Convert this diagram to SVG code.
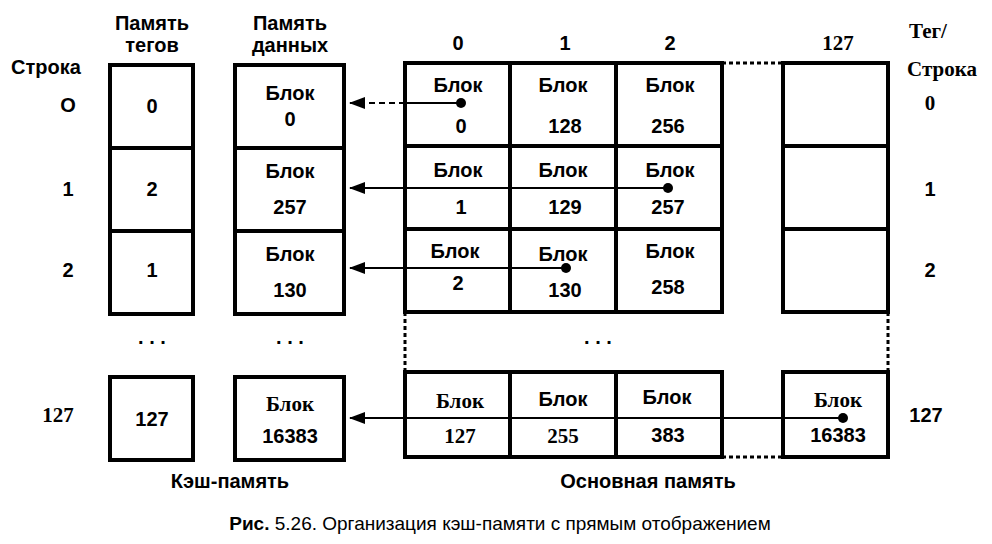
<svg xmlns="http://www.w3.org/2000/svg" width="992" height="544" viewBox="0 0 992 544">
<style>
.b{fill:#fff;stroke:#000;stroke-width:4}
.t{font-family:"Liberation Sans",Arial,sans-serif;font-weight:bold;font-size:20px;text-anchor:middle;fill:#000}
.s{font-family:"Liberation Serif","Times New Roman",serif;font-weight:bold;font-size:21px;text-anchor:middle;fill:#000}
.d{fill:none;stroke:#000;stroke-width:3;stroke-dasharray:4 3}
.c{stroke:#000;stroke-width:2;fill:none}
</style>
<defs><marker id="a" markerWidth="16" markerHeight="12" refX="15" refY="6" orient="auto" markerUnits="userSpaceOnUse"><path d="M0,0 L16,6 L0,12 Z"/></marker></defs>
<rect width="992" height="544" fill="#fff"/>
<g id="headers">
<text class="t" x="152" y="30">Память</text><text class="t" x="152" y="52">тегов</text>
<text class="t" x="290" y="30">Память</text><text class="t" x="290" y="52">данных</text>
<text class="t" x="46" y="74">Строка</text>
<text class="t" x="458" y="50">0</text><text class="t" x="565" y="50">1</text><text class="t" x="670" y="50">2</text>
<text class="s" x="838" y="50" font-size="17">127</text>
<text class="s" x="928" y="38" font-size="22">Тег/</text><text class="s" x="942" y="76">Строка</text>
</g>
<g id="rowlabels">
<text class="t" x="68" y="112">O</text><text class="t" x="68" y="196">1</text><text class="t" x="68" y="277">2</text><text class="s" x="58" y="422">127</text>
<text class="s" x="930" y="110">0</text><text class="t" x="930" y="196">1</text><text class="t" x="930" y="277">2</text><text class="t" x="926" y="422">127</text>
</g>
<g id="tags">
<rect class="b" x="110" y="65" width="83" height="83"/><rect class="b" x="110" y="148" width="83" height="83"/><rect class="b" x="110" y="231" width="83" height="83"/><rect class="b" x="110" y="377" width="83" height="83"/>
<text class="t" x="152" y="113">0</text><text class="t" x="152" y="196">2</text><text class="t" x="152" y="277">1</text><text class="t" x="152" y="344">. . .</text><text class="t" x="152" y="426">127</text>
</g>
<g id="data">
<rect class="b" x="235" y="65" width="109" height="83"/><rect class="b" x="235" y="148" width="109" height="83"/><rect class="b" x="235" y="231" width="109" height="83"/><rect class="b" x="235" y="377" width="109" height="83"/>
<text class="t" x="290" y="100">Блок</text><text class="t" x="290" y="126">0</text>
<text class="t" x="290" y="178">Блок</text><text class="t" x="290" y="214">257</text>
<text class="t" x="290" y="261">Блок</text><text class="t" x="290" y="297">130</text>
<text class="t" x="290" y="344">. . .</text>
<text class="s" x="290" y="411">Блок</text><text class="t" x="290" y="443">16383</text>
</g>
<g id="main">
<rect class="b" x="405" y="63" width="105" height="83"/><rect class="b" x="510" y="63" width="106" height="83"/><rect class="b" x="616" y="63" width="106" height="83"/>
<rect class="b" x="405" y="146" width="105" height="83"/><rect class="b" x="510" y="146" width="106" height="83"/><rect class="b" x="616" y="146" width="106" height="83"/>
<rect class="b" x="405" y="229" width="105" height="83"/><rect class="b" x="510" y="229" width="106" height="83"/><rect class="b" x="616" y="229" width="106" height="83"/>
<rect class="b" x="405" y="372" width="105" height="85"/><rect class="b" x="510" y="372" width="106" height="85"/><rect class="b" x="616" y="372" width="106" height="85"/>
<rect class="b" x="783" y="63" width="105" height="83"/><rect class="b" x="783" y="146" width="105" height="83"/><rect class="b" x="783" y="229" width="105" height="83"/><rect class="b" x="783" y="372" width="105" height="85"/>
<path class="d" d="M722,63 H783 M722,457 H783 M405,312 V372 M888,312 V372"/>
<text class="t" x="458" y="92">Блок</text><text class="t" x="461" y="133">0</text>
<text class="t" x="563" y="92">Блок</text><text class="t" x="565" y="133">128</text>
<text class="t" x="670" y="92">Блок</text><text class="t" x="668" y="133">256</text>
<text class="t" x="458" y="177">Блок</text><text class="t" x="461" y="214">1</text>
<text class="t" x="563" y="177">Блок</text><text class="t" x="565" y="214">129</text>
<text class="t" x="670" y="177">Блок</text><text class="t" x="668" y="214">257</text>
<text class="t" x="455" y="258">Блок</text><text class="t" x="458" y="290">2</text>
<text class="t" x="563" y="261">Блок</text><text class="t" x="565" y="297">130</text>
<text class="t" x="670" y="258">Блок</text><text class="t" x="668" y="294">258</text>
<text class="t" x="598" y="344">. . .</text>
<text class="s" x="460" y="408">Блок</text><text class="s" x="460" y="443">127</text>
<text class="t" x="563" y="406">Блок</text><text class="s" x="563" y="443">255</text>
<text class="t" x="667" y="404">Блок</text><text class="t" x="668" y="442">383</text>
<text class="s" x="838" y="407">Блок</text><text class="t" x="838" y="442">16383</text>
</g>
<g id="connectors">
<path class="c" d="M461,103 H405"/><path class="c" stroke-dasharray="6 4" d="M405,103 H350" marker-end="url(#a)"/>
<path class="c" d="M668,188 H350" marker-end="url(#a)"/>
<path class="c" d="M566,268 H350" marker-end="url(#a)"/>
<path class="c" d="M843,418 H350" marker-end="url(#a)"/>
<circle cx="461" cy="103" r="5"/><circle cx="668" cy="188" r="5"/><circle cx="566" cy="268" r="5"/><circle cx="843" cy="418" r="5"/>
</g>
<g id="captions">
<text class="t" x="230" y="488">Кэш-память</text>
<text class="t" x="648" y="488">Основная память</text>
<text x="500" y="530" font-family="Liberation Sans,Arial,sans-serif" font-size="19" text-anchor="middle"><tspan font-weight="bold">Рис.</tspan> 5.26. Организация кэш-памяти с прямым отображением</text>
</g>
</svg>
